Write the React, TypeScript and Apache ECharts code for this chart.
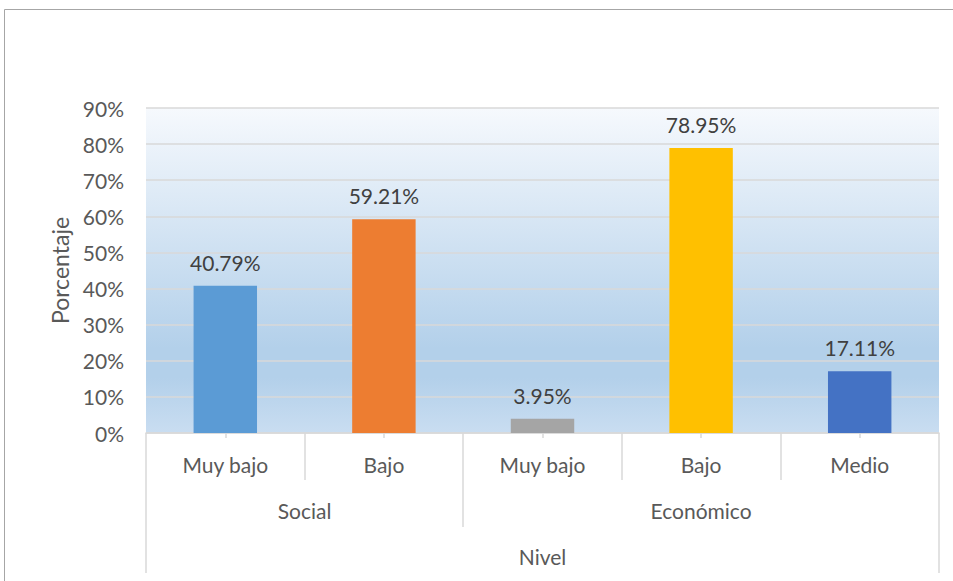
import React, { useEffect, useRef } from "react";
import * as echarts from "echarts";

const categories = ["Muy bajo", "Bajo", "Muy bajo", "Bajo", "Medio"];
const values = [40.79, 59.21, 3.95, 78.95, 17.11];
const barColors = ["#5b9bd5", "#ed7d31", "#a5a5a5", "#ffc000", "#4472c4"];
const groups = ["Social", "Económico"];
const groupSizes = [2, 3];
const yMax = 90;
const yInterval = 10;
const xTitle = "Nivel";
const yTitle = "Porcentaje";

export default function App() {
  const ref = useRef<HTMLDivElement>(null);
  useEffect(() => {
    if (!ref.current) return;
    const chart = echarts.init(ref.current, null, { renderer: "svg" });
    const n = categories.length;
    const bounds: number[] = [0];
    const centers: number[] = [];
    groupSizes.forEach((s) => {
      const start = bounds[bounds.length - 1];
      centers.push(start + s / 2);
      bounds.push(start + s);
    });
    const inner = Array.from({ length: n + 1 }, (_, i) => i).filter(
      (i) => bounds.indexOf(i) < 0
    );
    const font = "Lato, 'Open Sans', sans-serif";
    const lineColor = "#d9d9d9";
    const fs = 21;
    const hiddenValueAxis = (ticks: number[], len: number, labels: number[], margin: number, fmt: (v: number) => string) => ({
      type: "value",
      gridIndex: 0,
      position: "bottom",
      min: 0,
      max: n,
      interval: 1,
      splitLine: { show: false },
      axisLine: { show: false },
      axisTick: {
        show: true,
        inside: false,
        length: len,
        customValues: ticks,
        lineStyle: { color: lineColor, width: 1.5 },
      },
      axisLabel: {
        show: labels.length > 0,
        customValues: labels,
        margin,
        formatter: fmt,
        color: "#595959",
        fontSize: fs,
        fontFamily: font,
      },
    });
    chart.setOption({
      animation: false,
      backgroundColor: "#ffffff",
      textStyle: { fontFamily: font },
      graphic: [
        {
          type: "rect",
          shape: { x: 4.5, y: 9.5, width: 1000, height: 700 },
          style: { fill: "none", stroke: "#a6a6a6", lineWidth: 1 },
          silent: true,
          z: -1,
        },
      ],
      grid: {
        left: 146,
        right: 14,
        top: 108,
        bottom: 148,
        show: true,
        borderWidth: 0,
        backgroundColor: new echarts.graphic.LinearGradient(0, 0, 0, 1, [
          { offset: 0, color: "#f6f9fd" },
          { offset: 0.74, color: "#b3d0ea" },
          { offset: 0.83, color: "#b3d0ea" },
          { offset: 1, color: "#c9ddf1" },
        ]),
      },
      xAxis: [
        {
          type: "category",
          data: categories,
          position: "bottom",
          axisLine: { show: true, lineStyle: { color: lineColor, width: 1.5 } },
          axisTick: {
            show: true,
            alignWithLabel: true,
            length: 5,
            lineStyle: { color: lineColor, width: 1.5 },
          },
          axisLabel: {
            color: "#595959",
            fontSize: fs,
            fontFamily: font,
            margin: 21,
            interval: 0,
          },
        },
        hiddenValueAxis(inner, 47, [], 0, () => ""),
        hiddenValueAxis(bounds.slice(1, -1), 94, centers, 67, (v: number) => {
          const i = centers.indexOf(v);
          return i >= 0 ? groups[i] : "";
        }),
        hiddenValueAxis([0, n], 140, [n / 2], 113, (v: number) => (v === n / 2 ? xTitle : "")),
      ],
      yAxis: {
        type: "value",
        min: 0,
        max: yMax,
        interval: yInterval,
        name: yTitle,
        nameLocation: "middle",
        nameGap: 72,
        nameTextStyle: { color: "#595959", fontSize: 23, fontFamily: font },
        axisLine: { show: false },
        axisTick: { show: false },
        axisLabel: {
          formatter: "{value}%",
          color: "#595959",
          fontSize: fs,
          fontFamily: font,
          margin: 22,
        },
        splitLine: { lineStyle: { color: lineColor, width: 1.5 } },
      },
      series: [
        {
          type: "bar",
          xAxisIndex: 0,
          barWidth: "40%",
          data: values.map((v, i) => ({ value: v, itemStyle: { color: barColors[i] } })),
          label: {
            show: true,
            position: "top",
            distance: 13,
            formatter: (p: any) => p.value.toFixed(2) + "%",
            color: "#404040",
            fontSize: fs,
            fontFamily: font,
          },
        },
      ],
    });
    return () => chart.dispose();
  }, []);
  return (
    <div
      ref={ref}
      style={{ position: "absolute", left: 0, top: 0, width: 953, height: 581 }}
    />
  );
}
